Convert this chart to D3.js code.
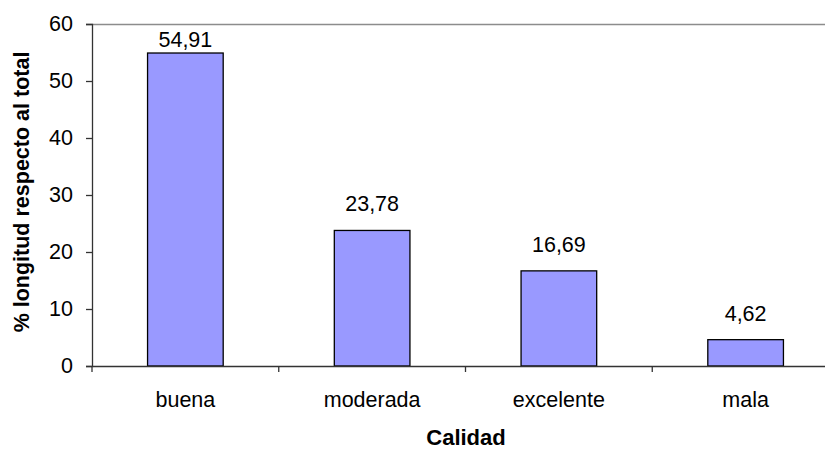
<!DOCTYPE html>
<html><head><meta charset="utf-8">
<script src="https://cdn.jsdelivr.net/npm/d3@7"></script>
<style>body{margin:0;background:#fff}svg{display:block}text{font-family:"Liberation Sans",Arial,sans-serif}</style>
</head><body><svg id="c" width="825" height="451"></svg>
<script>
const categories = ["buena","moderada","excelente","mala"];
const values = [54.91,23.78,16.69,4.62];
const valueLabels = ["54,91","23,78","16,69","4,62"];
const yTicks = [0,10,20,30,40,50,60];

const FS = 21.5;
const FF = "Liberation Sans, Arial, sans-serif";
const svg = d3.select("#c");
const L = 92, R = 839, T = 24, B = 366;
const x = d3.scaleBand().domain(categories).range([L, R]).padding(0);
const y = d3.scaleLinear().domain([0,60]).range([B, T]);
const bw = x.bandwidth()*0.405;

// top border
svg.append("line").attr("x1",L).attr("x2",825).attr("y1",T+0.5).attr("y2",T+0.5).attr("stroke","#8c8c8c").attr("stroke-width",1.6);

// bars
svg.selectAll("rect.bar").data(values).enter().append("rect")
  .attr("x",(d,i)=>x(categories[i])+x.bandwidth()/2-bw/2)
  .attr("y",d=>y(d)).attr("width",bw).attr("height",d=>B-y(d))
  .attr("fill","#9999ff").attr("stroke","#000").attr("stroke-width",1.3);

svg.selectAll("text.val").data(values).enter().append("text")
  .attr("x",(d,i)=>x(categories[i])+x.bandwidth()/2)
  .attr("y",d=>Math.max(y(d)-19, T+23)).attr("text-anchor","middle").attr("font-size",FS).attr("fill","#000")
  .text((d,i)=>valueLabels[i]);

// y axis
const ya = svg.append("g").attr("transform",`translate(${L},0)`)
  .call(d3.axisLeft(y).tickValues(yTicks).tickSize(6).tickPadding(13).tickFormat(d3.format("d")));
ya.select(".domain").attr("stroke","#333").attr("stroke-width",1.3);
ya.selectAll(".tick line").attr("stroke","#333").attr("stroke-width",1.3);
ya.selectAll(".tick text").attr("font-size",FS).attr("fill","#000").attr("font-family",FF);

// x axis
const xa = svg.append("g").attr("transform",`translate(0,${B})`)
  .call(d3.axisBottom(x).tickSize(0));
xa.select(".domain").attr("stroke","#333").attr("stroke-width",1.3);
xa.selectAll(".tick text").attr("font-size",FS).attr("fill","#000").attr("font-family",FF)
  .attr("y",41).attr("dy",0);
// category separators
xa.selectAll("line.sep").data(d3.range(categories.length+1)).enter().append("line")
  .attr("x1",i=>L+i*x.step()).attr("x2",i=>L+i*x.step()).attr("y1",0).attr("y2",6)
  .attr("stroke","#333").attr("stroke-width",1.3);

// titles
svg.append("text").attr("x",466).attr("y",445).attr("text-anchor","middle")
  .attr("font-size",22).attr("font-weight","bold").text("Calidad");
svg.append("text").attr("transform","translate(29,192) rotate(-90)").attr("text-anchor","middle")
  .attr("font-size",FS).attr("font-weight","bold").text("% longitud respecto al total");
</script></body></html>
